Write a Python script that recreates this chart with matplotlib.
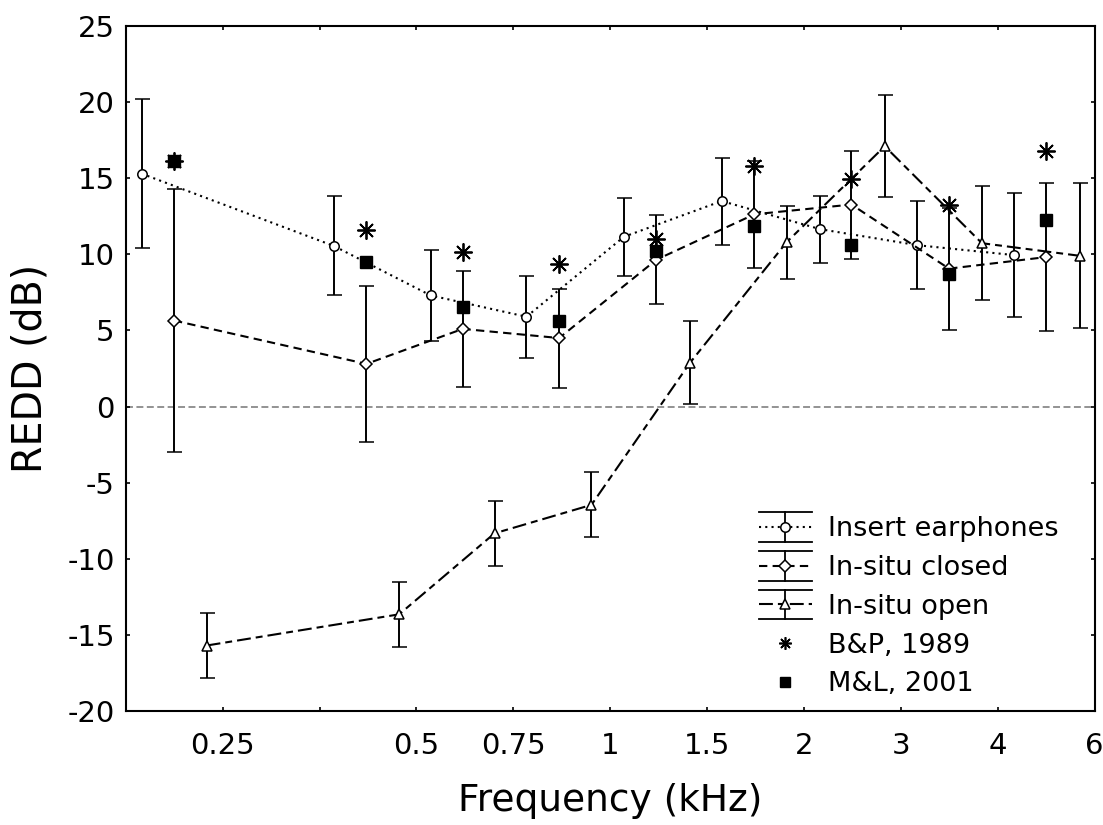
import matplotlib
matplotlib.use("Agg")
import matplotlib.pyplot as plt
from matplotlib.legend_handler import HandlerBase
from matplotlib.lines import Line2D

plt.rcParams['font.family'] = ['DejaVu Sans']
plt.rcParams['axes.unicode_minus'] = False
plt.rcParams['lines.scale_dashes'] = False

# frequencies (kHz) where each series is plotted (series are offset side by side)
freq_insert = [0.187, 0.372, 0.526, 0.741, 1.05, 1.49, 2.12, 3.0, 4.24]
freq_closed = [0.210, 0.418, 0.590, 0.833, 1.18, 1.675, 2.37, 3.36, 4.76]
freq_open = [0.236, 0.470, 0.661, 0.935, 1.33, 1.88, 2.67, 3.78, 5.37]

# REDD means and error bar half-widths (dB)
redd_insert = [15.3, 10.55, 7.3, 5.9, 11.15, 13.5, 11.65, 10.6, 9.95]
err_insert = [4.9, 3.25, 2.97, 2.68, 2.56, 2.86, 2.19, 2.9, 4.05]
redd_closed = [5.65, 2.8, 5.1, 4.5, 9.65, 12.63, 13.27, 9.06, 9.82]
err_closed = [8.65, 5.1, 3.8, 3.25, 2.94, 3.5, 3.55, 4.0, 4.87]
redd_open = [-15.7, -13.65, -8.33, -6.46, 2.87, 10.8, 17.1, 10.73, 9.9]
err_open = [2.13, 2.12, 2.13, 2.14, 2.73, 2.39, 3.35, 3.74, 4.77]

# literature values, plotted at the in-situ closed frequencies
bp_1989 = [16.1, 11.58, 10.18, 9.39, 11.03, 15.79, 14.98, 13.22, 16.78]
ml_2001 = [16.1, 9.52, 6.51, 5.64, 10.22, 11.86, 10.64, 8.73, 12.24]

tick_freqs = [0.25, 0.354, 0.5, 0.707, 1.0, 1.414, 2.0, 2.828, 4.0, 5.657]
tick_labels = ['0.25', '', '0.5', '0.75', '1', '1.5', '2', '3', '4', '6']

ls_insert = (0, (1.5, 3.0))
ls_closed = (0, (6.0, 3.8))
ls_open = (0, (10.0, 3.6, 5.0, 3.6))


class CapBarHandler(HandlerBase):
    # legend key like the original: full-width caps above and below the marker
    def create_artists(self, legend, orig_handle, xdescent, ydescent,
                       width, height, fontsize, trans):
        x0 = -xdescent
        x1 = x0 + width
        xm = x0 + width / 2
        ym = -ydescent + height / 2
        dy = 0.55 * fontsize
        base = Line2D([x0, x1], [ym, ym])
        base.update_from(orig_handle)
        base.set_marker('None')
        bar = Line2D([xm, xm], [ym - dy, ym + dy], color='k', lw=1.3)
        caps = [Line2D([x0, x1], [ym + s * dy] * 2, color='k', lw=1.3)
                for s in (-1, 1)]
        mark = Line2D([xm], [ym])
        mark.update_from(orig_handle)
        mark.set_linestyle('None')
        arts = [base, bar] + caps + [mark]
        for a in arts:
            a.set_transform(trans)
        return arts


fig = plt.figure(figsize=(11.03, 8.25), dpi=100)
ax = fig.add_axes([0.1141, 0.1382, 0.8783, 0.8303])

ax.axhline(0, color='#808080', lw=1.2, ls=(0, (5, 2.5)), zorder=1)

eb = dict(color='k', capsize=5.4, elinewidth=1.4, capthick=1.4, lw=1.5,
          mec='k', mfc='white', mew=1.1, zorder=3)
ax.errorbar(freq_insert, redd_insert, yerr=err_insert, ls=ls_insert,
            marker='o', ms=6.8, **eb)
ax.errorbar(freq_closed, redd_closed, yerr=err_closed, ls=ls_closed,
            marker='D', ms=5.8, **eb)
ax.errorbar(freq_open, redd_open, yerr=err_open, ls=ls_open,
            marker='^', ms=7.5, **eb)

ax.plot(freq_closed, ml_2001, ls='none', marker='s', ms=8, color='k', zorder=4)
ax.plot(freq_closed, bp_1989, ls='none', marker=(8, 2, 0), ms=13, mew=1.3,
        color='k', zorder=5)

ax.set_xscale('log', base=2)
ax.set_xlim(2 ** -2.5, 2 ** 2.5)
ax.set_xticks(tick_freqs)
ax.set_xticklabels(tick_labels)
ax.xaxis.set_minor_locator(matplotlib.ticker.NullLocator())
ax.set_ylim(-20, 25)
ax.set_yticks(range(-20, 30, 5))

ax.tick_params(which='both', direction='in', top=True, right=True,
               length=3.2, width=1.2, labelsize=21)
ax.tick_params(axis='x', pad=15)
ax.tick_params(axis='y', pad=8)
for sp in ax.spines.values():
    sp.set_linewidth(1.5)

ax.set_xlabel('Frequency (kHz)', fontsize=27, labelpad=17)
ax.set_ylabel('REDD (dB)', fontsize=28.5, labelpad=12)

h_insert = Line2D([], [], color='k', lw=1.5, ls=ls_insert, marker='o', ms=6.8,
                  mfc='white', mec='k', mew=1.1)
h_closed = Line2D([], [], color='k', lw=1.5, ls=ls_closed, marker='D', ms=5.8,
                  mfc='white', mec='k', mew=1.1)
h_open = Line2D([], [], color='k', lw=1.5, ls=ls_open, marker='^', ms=7.5,
                mfc='white', mec='k', mew=1.1)
h_bp = Line2D([], [], ls='none', marker=(8, 2, 0), ms=9, mew=1.2, color='k')
h_ml = Line2D([], [], ls='none', marker='s', ms=7, color='k')

ax.legend([h_insert, h_closed, h_open, h_bp, h_ml],
          ['Insert earphones', 'In-situ closed', 'In-situ open',
           'B&P, 1989', 'M&L, 2001'],
          loc='lower right', bbox_to_anchor=(0.974, 0.004), frameon=False,
          fontsize=19.5, handlelength=1.95, handletextpad=0.6,
          labelspacing=0.47, borderpad=0.4, borderaxespad=0, numpoints=1,
          handler_map={h_insert: CapBarHandler(), h_closed: CapBarHandler(),
                       h_open: CapBarHandler()})

fig.savefig('out.png', dpi=100)
